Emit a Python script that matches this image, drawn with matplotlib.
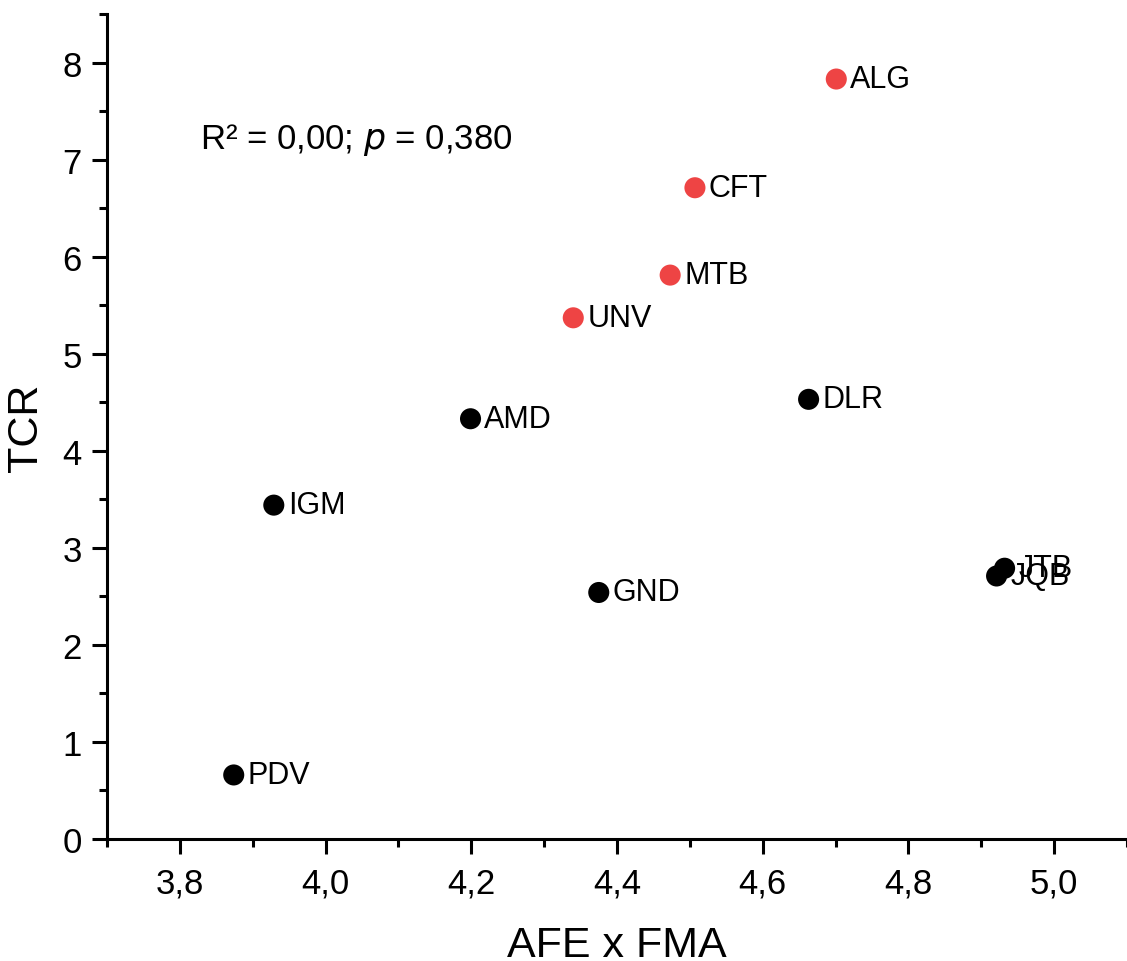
import numpy as np
import matplotlib.pyplot as plt
from matplotlib.ticker import MultipleLocator, FuncFormatter

plt.rcParams['font.family'] = ['Liberation Sans', 'DejaVu Sans']

# data
labels = ['ALG', 'CFT', 'MTB', 'UNV', 'DLR', 'AMD', 'IGM', 'GND', 'JTB', 'JQB', 'PDV']
afe_fma = [4.701, 4.507, 4.473, 4.340, 4.663, 4.199, 3.929, 4.375, 4.932, 4.921, 3.874]
tcr = [7.83, 6.71, 5.81, 5.37, 4.53, 4.33, 3.44, 2.54, 2.79, 2.71, 0.66]
highlight = [True, True, True, True, False, False, False, False, False, False, False]

colors = ['#EE4444' if h else 'black' for h in highlight]

fig = plt.figure(figsize=(11.27, 9.62), dpi=100)
ax = fig.add_axes([0.0949, 0.1268, 0.9051, 0.8576])

ax.scatter(afe_fma, tcr, s=230, c=colors, zorder=3, linewidths=0)
for x, y, lab in zip(afe_fma, tcr, labels):
    ax.annotate(lab, (x, y), xytext=(10, 0), textcoords='offset points',
                va='center', ha='left', fontsize=22)

ax.text(0.091, 0.848, 'R² = 0,00; $\\it{p}$ = 0,380', transform=ax.transAxes,
        fontsize=25, ha='left', va='center')

ax.set_xlim(3.7, 5.1)
ax.set_ylim(0, 8.5)
ax.xaxis.set_major_locator(MultipleLocator(0.2))
ax.xaxis.set_minor_locator(MultipleLocator(0.1))
ax.yaxis.set_major_locator(MultipleLocator(1))
ax.yaxis.set_minor_locator(MultipleLocator(0.5))
ax.xaxis.set_major_formatter(FuncFormatter(lambda v, p: f'{v:.1f}'.replace('.', ',')))

for s in ['top', 'right']:
    ax.spines[s].set_visible(False)
for s in ['left', 'bottom']:
    ax.spines[s].set_linewidth(2.2)
ax.tick_params(which='major', length=11, width=2.2, labelsize=25)
ax.tick_params(axis='x', which='major', pad=9)
ax.tick_params(axis='y', which='major', pad=7)
ax.tick_params(which='minor', length=6, width=2.2)

ax.set_xlabel('AFE x FMA', fontsize=31, labelpad=18)
ax.set_ylabel('TCR', fontsize=31, labelpad=12)

fig.savefig('out.png', dpi=100)
